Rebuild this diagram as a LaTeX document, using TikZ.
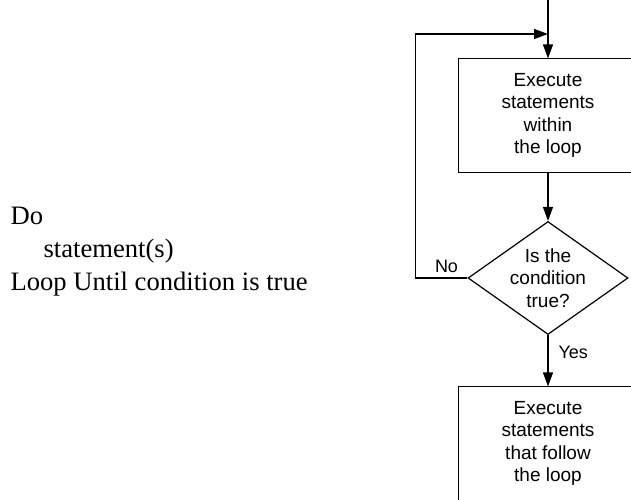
\documentclass[tikz,border=0pt]{standalone}
\usepackage{fontspec}
\setmainfont{Liberation Serif}
\newfontfamily\chartfont{Liberation Sans}
\usetikzlibrary{arrows.meta,shapes.geometric}
\begin{document}
\begin{tikzpicture}[x=1pt,y=-1pt,
  line width=1.2pt,
  arr/.style={-{Triangle[length=14pt,width=10pt]}},
  procbox/.style={rectangle,minimum width=178pt,minimum height=113pt,
    inner sep=0pt,align=center,font=\chartfont\fontsize{19}{22.3}\selectfont},
  decbox/.style={draw,diamond,minimum width=160pt,minimum height=113pt,inner sep=0pt},
  dectext/.style={align=center,inner sep=0pt,font=\chartfont\fontsize{19}{22.5}\selectfont},
  flowlabel/.style={inner sep=0pt,font=\chartfont\fontsize{18}{20}\selectfont},
  code/.style={inner sep=0pt,anchor=base west,font=\fontsize{26.6}{33}\selectfont}]
\useasboundingbox (0,0) rectangle (631,499);
\clip (0,0) rectangle (631,499);

% pseudocode
\node[code] (l1) at (10,224) {Do};
\node[code] (l2) at (43,257) {statement(s)};
\node[code] (l3) at (10,290) {Loop Until condition is true};

% flowchart
\coordinate (entry) at (548,-2);
\coordinate (merge) at (548,34);
\node[procbox] (body) at (548,115.5) {Execute\\statements\\within\\the loop};
\node[decbox] (dec) at (548,278) {};
\node[dectext] (dect) at (dec.center) {Is the\\condition\\true?};
\node[procbox] (after) at (548,443.5) {Execute\\statements\\that follow\\the loop};

% box outlines, running off the right and bottom edges
\draw (body.north east) ++(20,0) -- (body.north west) -- (body.south west) -- ++(198,0);
\draw (after.north east) ++(20,0) -- (after.north west) -- ++(0,130);

\draw[arr] (entry) -- (body.north);
\draw[arr] (body.south) -- (dec.north);
\draw[arr] (dec.south) -- (after.north);
\draw[arr] (dec.west) -- ++(-52,0) |- (merge);

\node[flowlabel,anchor=base] (no) at (446.5,272) {No};
\node[flowlabel,anchor=base west] (yes) at (558,358) {Yes};
\end{tikzpicture}
\end{document}
